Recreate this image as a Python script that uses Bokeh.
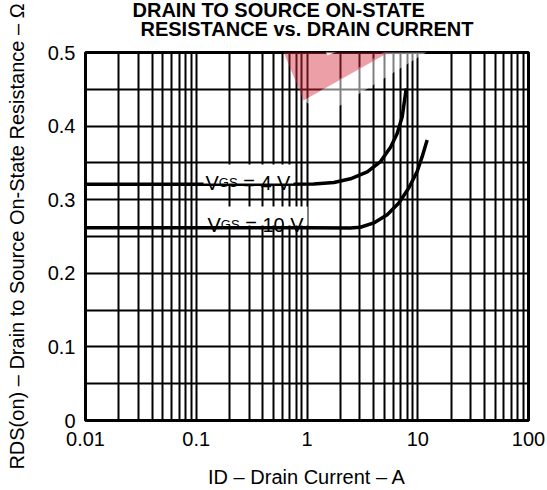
from bokeh.plotting import figure
from bokeh.models import (Label, PolyAnnotation, BoxAnnotation, FixedTicker, Range1d,
                          LogAxis, Title)
from bokeh.embed import file_html
from bokeh.resources import INLINE

# ---- data ----
vgs4_id = [0.01, 0.5, 1.15, 1.75, 2.47, 3.50, 4.61, 5.68, 6.52, 7.24, 7.87]
vgs4_r = [0.321, 0.321, 0.3212, 0.3234, 0.3284, 0.3378, 0.3518, 0.3712, 0.390, 0.4126, 0.451]
vgs10_id = [0.01, 1.0, 2.47, 3.04, 4.01, 5.30, 6.75, 8.30, 9.88, 10.96, 12.16]
vgs10_r = [0.262, 0.262, 0.2617, 0.2626, 0.2685, 0.2797, 0.2955, 0.3158, 0.3383, 0.3585, 0.381]

x_ticks = [0.01, 0.1, 1, 10, 100]
x_tick_labels = ["0.01", "0.1", "1", "10", "100"]
x_minor = [m * 10.0 ** k for k in range(-2, 2) for m in range(2, 10)]
y_ticks = [0, 0.1, 0.2, 0.3, 0.4, 0.5]
y_tick_labels = ["0", "0.1", "0.2", "0.3", "0.4", "0.5"]
y_minor = [0.05, 0.15, 0.25, 0.35, 0.45]

title_lines = ["DRAIN TO SOURCE ON-STATE", "RESISTANCE vs. DRAIN CURRENT"]
x_label = "ID \u2013 Drain Current \u2013 A"
y_label = "RDS(on) \u2013 Drain to Source On-State Resistance \u2013 \u03a9"

FONT = "Liberation Sans"

p = figure(width=547, height=490, x_axis_type="log",
           x_range=Range1d(0.01, 100), y_range=Range1d(0, 0.5),
           output_backend="svg", toolbar_location=None,
           min_border_left=85, min_border_right=19,
           min_border_top=52, min_border_bottom=68)

p.background_fill_color = "white"
p.border_fill_color = "white"
p.outline_line_color = "black"
p.outline_line_width = 3

xt = FixedTicker(ticks=x_ticks, minor_ticks=x_minor)
yt = FixedTicker(ticks=y_ticks, minor_ticks=y_minor)
p.xaxis.ticker = xt
p.yaxis.ticker = yt
p.xgrid.ticker = xt
p.ygrid.ticker = yt
p.xaxis.major_label_overrides = dict(zip(x_ticks, x_tick_labels))
p.yaxis.major_label_overrides = dict(zip(y_ticks, y_tick_labels))

for ax in (p.xaxis, p.yaxis):
    ax.axis_line_color = None
    ax.major_tick_line_color = None
    ax.minor_tick_line_color = None
    ax.major_tick_out = 0
    ax.minor_tick_out = 0
    ax.major_tick_in = 0
    ax.minor_tick_in = 0
    ax.major_label_text_font = FONT
    ax.major_label_text_font_size = "20px"
    ax.major_label_text_color = "black"
    ax.axis_label_text_font = FONT
    ax.axis_label_text_font_size = "20px"
    ax.axis_label_text_font_style = "normal"
    ax.axis_label_text_color = "black"

p.xaxis.major_label_standoff = 11
p.yaxis.major_label_standoff = 10
p.xaxis.axis_label = x_label
p.xaxis.axis_label_standoff = 17
p.yaxis.axis_label = y_label
p.yaxis.axis_label_standoff = 17
p.yaxis.bounds = (-0.015, 0.5)

for g in (p.xgrid, p.ygrid):
    g.grid_line_color = "black"
    g.grid_line_width = 2
    g.minor_grid_line_color = "black"
    g.minor_grid_line_width = 2

p.line(vgs4_id, vgs4_r, line_width=3.5, line_color="black", line_join="round")
p.line(vgs10_id, vgs10_r, line_width=3.5, line_color="black", line_join="round")

# ---- chart title: line 2 as the label of an empty axis above, line 1 as a Title ----
top_axis = LogAxis(ticker=FixedTicker(ticks=[]), axis_label=title_lines[1])
top_axis.axis_line_color = None
top_axis.major_tick_line_color = None
top_axis.minor_tick_line_color = None
top_axis.major_tick_out = 0
top_axis.minor_tick_out = 0
top_axis.major_label_standoff = 0
top_axis.axis_label_standoff = 13
top_axis.axis_label_text_font = FONT
top_axis.axis_label_text_font_size = "20px"
top_axis.axis_label_text_font_style = "bold"
top_axis.axis_label_text_color = "black"
p.add_layout(top_axis, "above")

t1 = Title(text=title_lines[0], align="left", offset=47, vertical_align="bottom",
           standoff=-12, text_font=FONT, text_font_size="20px",
           text_font_style="bold", text_color="black")
p.add_layout(t1, "above")


def lab(text, x, y, size):
    l = Label(text=text, x=x, y=y, x_units="canvas", y_units="canvas",
              text_font=FONT, text_font_size=size, text_color="black",
              text_align="left", text_baseline="alphabetic")
    p.add_layout(l)


# white boxes behind the curve labels
for (l, r, t, b) in [(203, 293, 164, 183), (205, 307, 206, 225)]:
    p.add_layout(BoxAnnotation(left=l, right=r, top=t, bottom=b,
                               left_units="canvas", right_units="canvas",
                               top_units="canvas", bottom_units="canvas",
                               fill_color="white", fill_alpha=1.0, line_color=None))

# VGS = 4 V
lab("V", 205, 182, "20px")
lab("GS", 218.3, 182, "13px")
lab("= 4 V", 242.7, 182, "20px")
# VGS = 10 V
lab("V", 207, 224, "20px")
lab("GS", 220.3, 224, "13px")
lab("= 10 V", 244.7, 224, "20px")

# watermark (visible inside the plot frame)
p.add_layout(PolyAnnotation(xs=[303, 470, 510, 325], ys=[100, 0, 0, 114],
                            xs_units="canvas", ys_units="canvas",
                            fill_color="white", fill_alpha=0.5, line_color=None))
p.add_layout(PolyAnnotation(xs=[262, 480, 303], ys=[0, 0, 100],
                            xs_units="canvas", ys_units="canvas",
                            fill_color="#d42a3a", fill_alpha=0.45, line_color=None))
p.add_layout(PolyAnnotation(xs=[318, 372, 381, 327], ys=[38, 16, 33, 55],
                            xs_units="canvas", ys_units="canvas",
                            fill_color="white", fill_alpha=0.85, line_color=None))

open("out.html", "w").write(file_html(p, INLINE))
